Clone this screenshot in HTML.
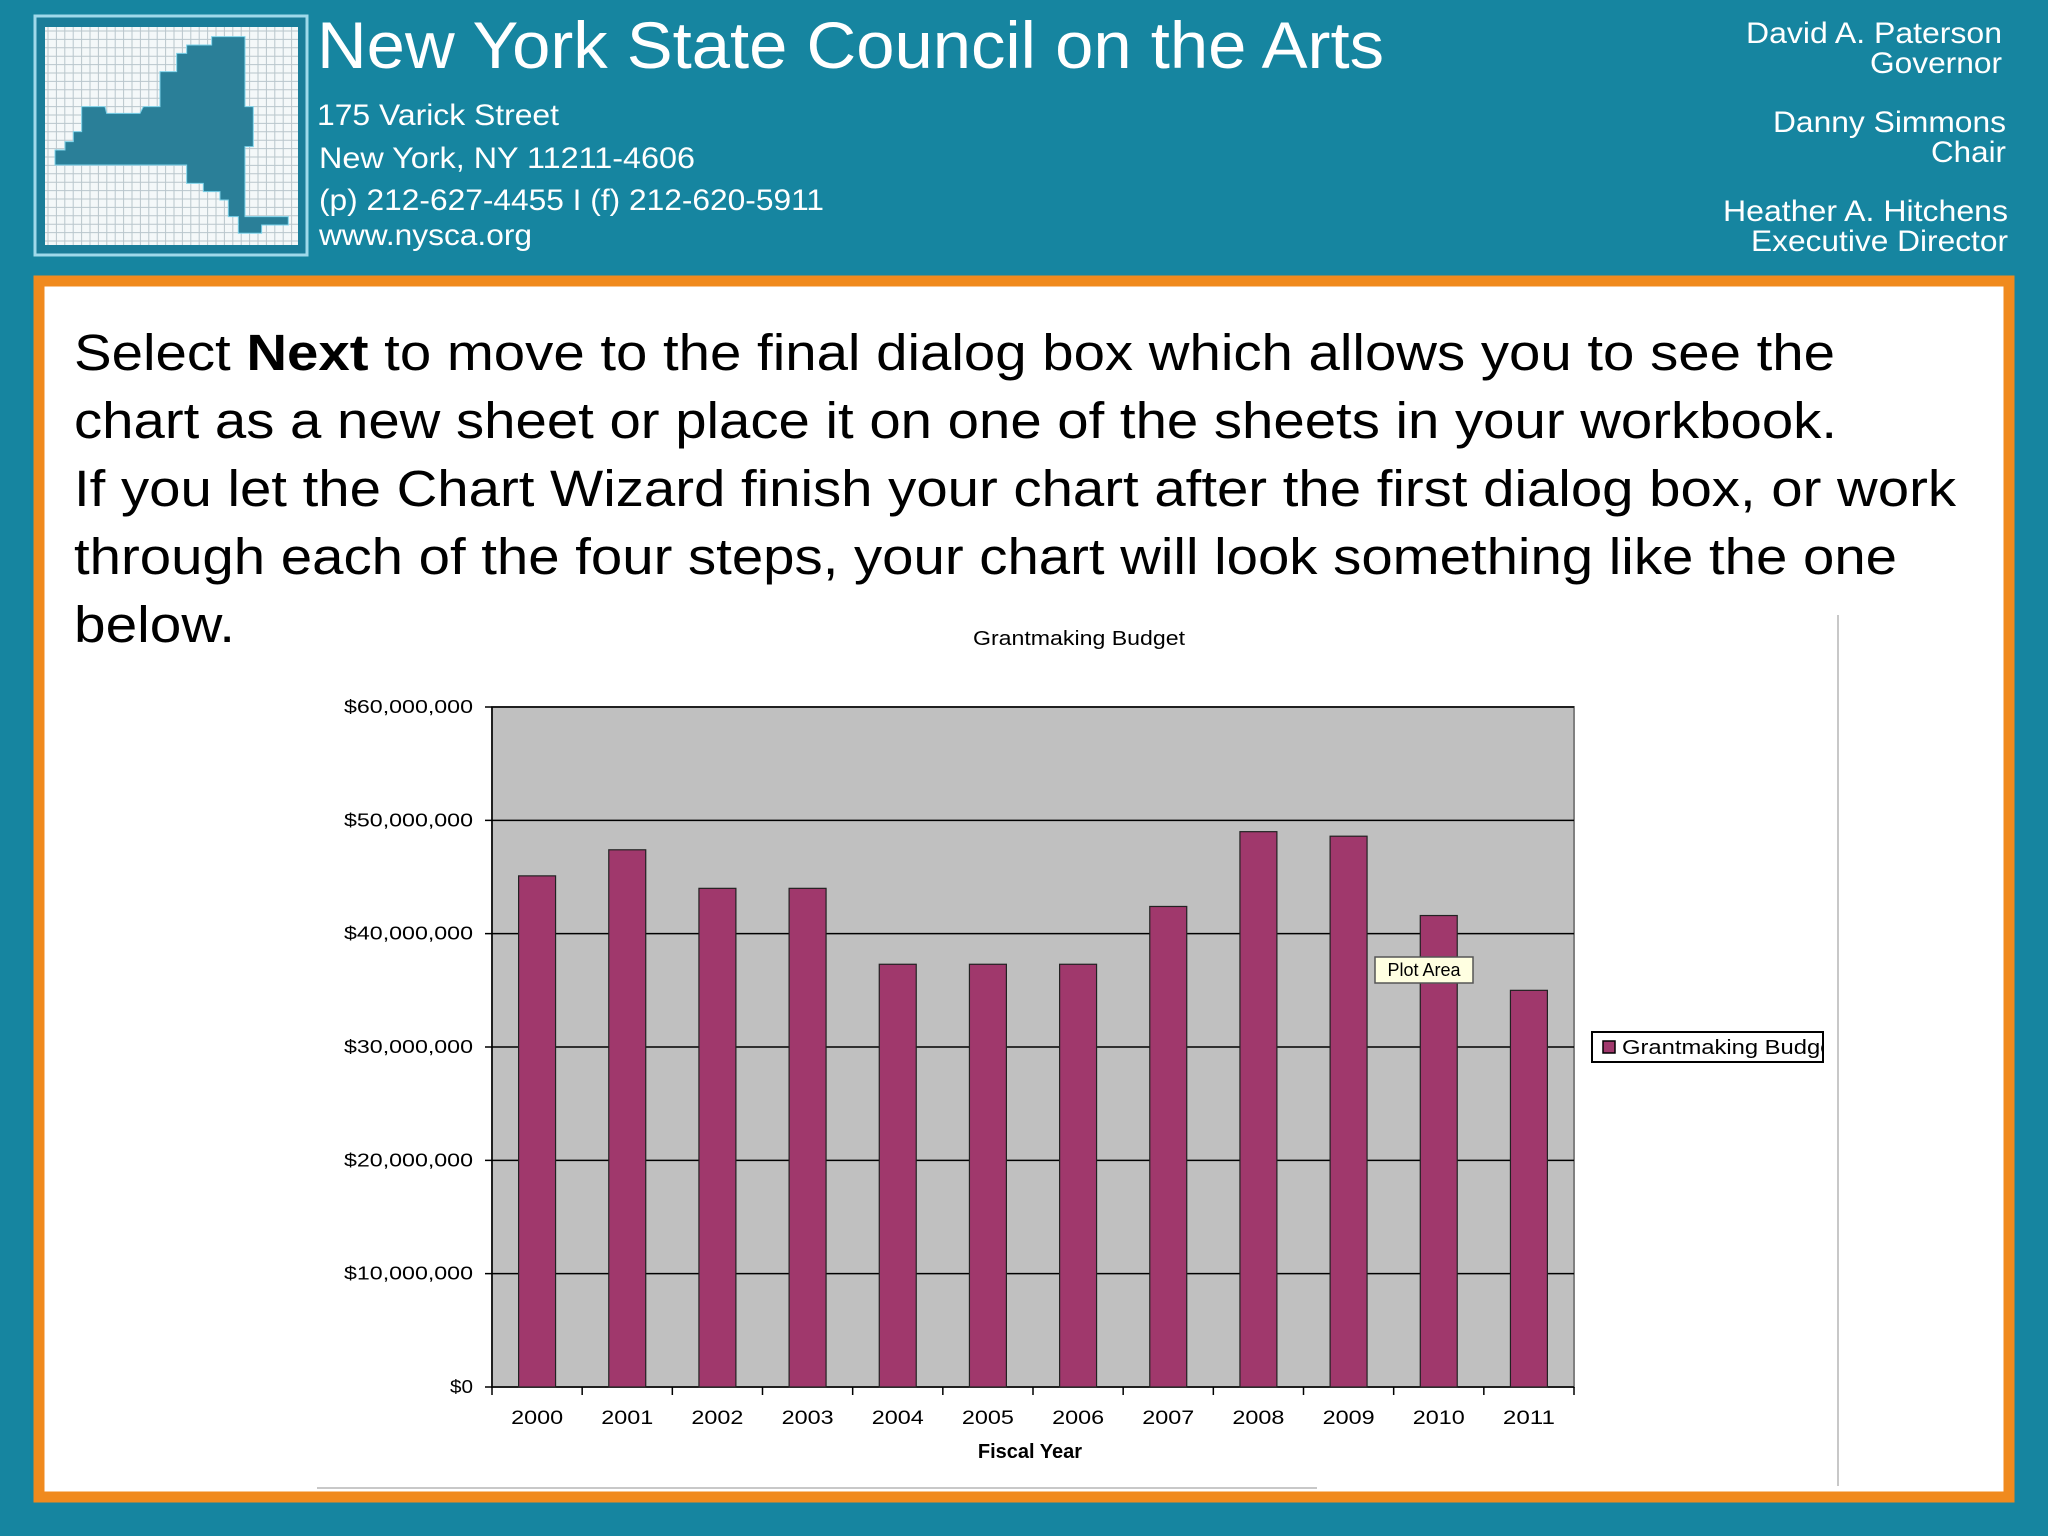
<!DOCTYPE html>
<html><head><meta charset="utf-8"><style>
html,body{margin:0;padding:0;background:#1685a0;}
svg{display:block;font-family:"Liberation Sans",Arial,sans-serif;}
</style></head><body>
<svg width="2048" height="1536" viewBox="0 0 2048 1536">
<rect x="0" y="0" width="2048" height="1536" fill="#1685a0"/>
<g>
<rect x="35" y="16" width="272" height="239" fill="#1a7d99" stroke="#9fd9ea" stroke-width="3"/>
<rect x="45" y="27" width="253" height="218" fill="#f4f8f9"/>
<g id="grid" stroke="#b9c6cc" stroke-width="1"></g>
<g transform="translate(20,10) scale(0.3333)">
<polygon fill="#2a7f98" stroke="#7fd3ea" stroke-width="3" points="575,80 675,80 675,290 700,290 700,410 675,410 675,620 805,620 805,645 725,645 725,670 655,670 655,620 625,620 625,570 600,570 600,545 550,545 550,520 500,520 500,465 105,465 105,420 135,420 135,395 160,395 160,365 185,365 185,290 255,290 260,310 360,310 370,290 420,290 420,185 470,185 470,130 500,130 500,105 575,105"/>
</g>
</g>
<g fill="#ffffff">
<text x="317" y="68" font-size="66" textLength="1067" lengthAdjust="spacingAndGlyphs">New York State Council on the Arts</text>
<text x="317" y="125" font-size="30" textLength="242" lengthAdjust="spacingAndGlyphs">175 Varick Street</text>
<text x="319" y="168" font-size="30" textLength="376" lengthAdjust="spacingAndGlyphs">New York, NY 11211-4606</text>
<text x="319" y="210" font-size="30" textLength="505" lengthAdjust="spacingAndGlyphs">(p) 212-627-4455 I (f) 212-620-5911</text>
<text x="319" y="245" font-size="30" textLength="213" lengthAdjust="spacingAndGlyphs">www.nysca.org</text>
<g font-size="30">
<text x="1746" y="43" textLength="256" lengthAdjust="spacingAndGlyphs">David A. Paterson</text>
<text x="1870" y="73" textLength="132" lengthAdjust="spacingAndGlyphs">Governor</text>
<text x="1773" y="132" textLength="233" lengthAdjust="spacingAndGlyphs">Danny Simmons</text>
<text x="1931" y="162" textLength="75" lengthAdjust="spacingAndGlyphs">Chair</text>
<text x="1723" y="221" textLength="285" lengthAdjust="spacingAndGlyphs">Heather A. Hitchens</text>
<text x="1751" y="251" textLength="257" lengthAdjust="spacingAndGlyphs">Executive Director</text>
</g>
</g>
<rect x="39" y="281" width="1970" height="1216" fill="#ffffff" stroke="#f08a1e" stroke-width="11"/>
<g font-size="51" fill="#000">
<text x="74" y="370" textLength="1761" lengthAdjust="spacingAndGlyphs">Select <tspan font-weight="bold">Next</tspan> to move to the final dialog box which allows you to see the</text>
<text x="74" y="438" textLength="1763" lengthAdjust="spacingAndGlyphs">chart as a new sheet or place it on one of the sheets in your workbook.</text>
<text x="74" y="506" textLength="1882" lengthAdjust="spacingAndGlyphs">If you let the Chart Wizard finish your chart after the first dialog box, or work</text>
<text x="74" y="574" textLength="1823" lengthAdjust="spacingAndGlyphs">through each of the four steps, your chart will look something like the one</text>
<text x="74" y="642" textLength="161" lengthAdjust="spacingAndGlyphs">below.</text>
</g>
<line x1="1838" y1="615" x2="1838" y2="1486" stroke="#c8c8c8" stroke-width="2"/>
<line x1="317" y1="1488" x2="1317" y2="1488" stroke="#c8c8c8" stroke-width="2"/>
<text x="973" y="645" font-size="20" textLength="212" lengthAdjust="spacingAndGlyphs">Grantmaking Budget</text>
<g id="chart"></g>
<g>
<rect x="1592" y="1032" width="231" height="30" fill="#fff" stroke="#000" stroke-width="2"/>
<rect x="1603" y="1041" width="12" height="12" fill="#a0386c" stroke="#000" stroke-width="1.5"/>
<svg x="1592" y="1032" width="230" height="30"><text x="30" y="22" font-size="20" textLength="218" lengthAdjust="spacingAndGlyphs">Grantmaking Budget</text></svg>
</g>
<g>
<rect x="1375" y="957" width="98" height="26" fill="#ffffe1" stroke="#555" stroke-width="1.5"/>
<text x="1424" y="976" font-size="18" text-anchor="middle">Plot Area</text>
</g>
</svg>
<script>
const categories=["2000","2001","2002","2003","2004","2005","2006","2007","2008","2009","2010","2011"];
const budgetValues=[45.1,47.4,44.0,44.0,37.3,37.3,37.3,42.4,49.0,48.6,41.6,35.0];
const yTicks=[0,10,20,30,40,50,60];
const yTickLabels=["$0","$10,000,000","$20,000,000","$30,000,000","$40,000,000","$50,000,000","$60,000,000"];
const NS="http://www.w3.org/2000/svg";
const L=492,R=1574,T=707,B=1387,yMax=60;
const y=v=>B-(v/yMax)*(B-T);
const band=(R-L)/categories.length;
const x=i=>L+band*i;
function mk(tag,attrs,parent){const e=document.createElementNS(NS,tag);for(const k in attrs)e.setAttribute(k,attrs[k]);parent.appendChild(e);return e;}
const grid=document.getElementById('grid');
for(let gx=48;gx<298;gx+=8.4){mk('line',{x1:gx,y1:27,x2:gx,y2:245},grid);}
for(let gy=31;gy<245;gy+=8.4){mk('line',{x1:45,y1:gy,x2:298,y2:gy},grid);}
const c=document.getElementById('chart');
const bg=mk('rect',{x:L,y:T,width:R-L,height:B-T,fill:'#c0c0c0',stroke:'#808080','stroke-width':2},c);


yTicks.forEach((t,i)=>{
  const g=mk('line',{x1:L-7,y1:y(t),x2:R,y2:y(t),stroke:'#000','stroke-width':1.5},c);
  
  
  const len=yTickLabels[i].length>3?129:23;
  const tx=mk('text',{x:473-len,y:y(t)+6,'font-size':18,textLength:len,lengthAdjust:'spacingAndGlyphs'},c);
  tx.textContent=yTickLabels[i];
  
  
});
mk('line',{x1:L,y1:T,x2:L,y2:B,stroke:'#000','stroke-width':1.5},c);
categories.forEach((cat,i)=>{
  const bw=band*0.41;
  const bx=x(i)+(band-bw)/2;
  const r=mk('rect',{x:bx,y:y(budgetValues[i]),width:bw,height:B-y(budgetValues[i]),fill:'#a0386c',stroke:'#222','stroke-width':1.2},c);
  
  
  mk('line',{x1:x(i),y1:B,x2:x(i),y2:B+8,stroke:'#000','stroke-width':1.5},c);
  const t=mk('text',{x:x(i)+band/2-26,y:1424,'font-size':19,textLength:52,lengthAdjust:'spacingAndGlyphs'},c);
  t.textContent=cat;
  
  
});
mk('line',{x1:R,y1:B,x2:R,y2:B+8,stroke:'#000','stroke-width':1.5},c);
const xt=mk('text',{x:1030,y:1458,'font-size':20,'font-weight':'bold','text-anchor':'middle'},c);
xt.textContent='Fiscal Year';


</script>
</body></html>
